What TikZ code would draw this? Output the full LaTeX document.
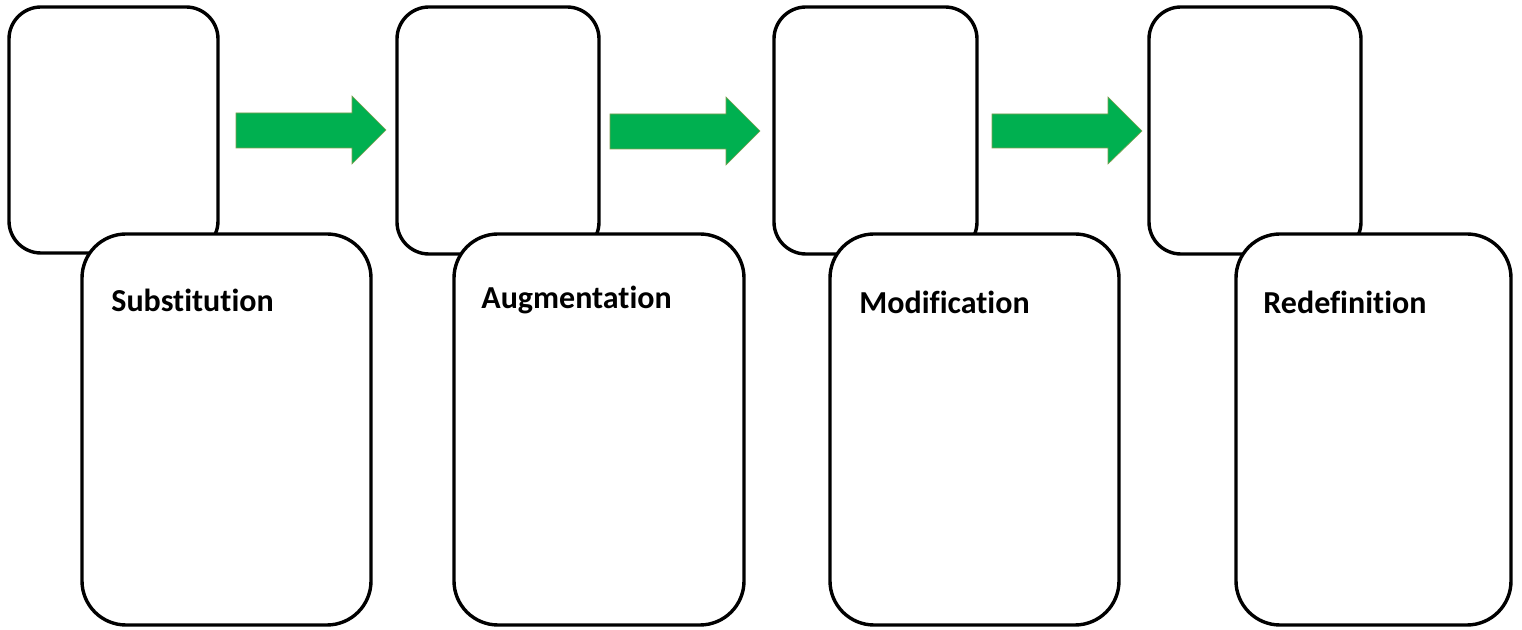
\documentclass[tikz,border=0pt]{standalone}
\usepackage{fontspec}
\setmainfont[Ligatures=NoCommon]{Carlito}
\definecolor{arrgreen}{HTML}{00B050}
\definecolor{arredge}{HTML}{7F9F50}
\begin{document}
\begin{tikzpicture}[x=0.5pt,y=-0.5pt,
  smallbox/.style={draw=black,line width=1.7pt,rounded corners=16pt,fill=white,inner sep=0pt},
  bigbox/.style={draw=black,line width=1.7pt,rounded corners=22pt,fill=white,inner sep=0pt},
  lbl/.style={anchor=base west,inner sep=0pt,font=\bfseries\fontsize{16}{18}\selectfont},
  blockarrow/.style={fill=arrgreen,draw=arredge,line width=0.3pt}]
\useasboundingbox[fill=white] (0,0) rectangle (1522,630);
% small boxes
\node[smallbox,minimum width=104.5pt,minimum height=123pt] (s1) at (113.5,130) {};
\node[smallbox,minimum width=101pt,minimum height=123.5pt] (s2) at (498,130.5) {};
\node[smallbox,minimum width=101.5pt,minimum height=123.5pt] (s3) at (875.5,130.5) {};
\node[smallbox,minimum width=106pt,minimum height=123.5pt] (s4) at (1255,130.5) {};
% big boxes
\node[bigbox,minimum width=144.5pt,minimum height=195.5pt] (b1) at (226.5,429.5) {};
\node[bigbox,minimum width=145pt,minimum height=195.5pt] (b2) at (599,429.5) {};
\node[bigbox,minimum width=144.5pt,minimum height=195.5pt] (b3) at (974.5,429.5) {};
\node[bigbox,minimum width=137.5pt,minimum height=195.5pt] (b4) at (1373.5,429.5) {};
% labels
\node[lbl] (t1) at (111,312) {Substitution};
\node[lbl] (t2) at (481,309) {Augmentation};
\node[lbl] (t3) at (859,314) {Modification};
\node[lbl] (t4) at (1263,314) {Redefinition};
% block arrows
\draw[blockarrow] (236,113) -- (352,113) -- (352,96) -- (386,130) -- (352,164) -- (352,148) -- (236,148) -- cycle;
\draw[blockarrow] (610,114) -- (726,114) -- (726,97) -- (760,131) -- (726,165) -- (726,149) -- (610,149) -- cycle;
\draw[blockarrow] (992,114) -- (1108,114) -- (1108,97) -- (1142,131) -- (1108,164) -- (1108,148) -- (992,148) -- cycle;
\end{tikzpicture}
\end{document}
